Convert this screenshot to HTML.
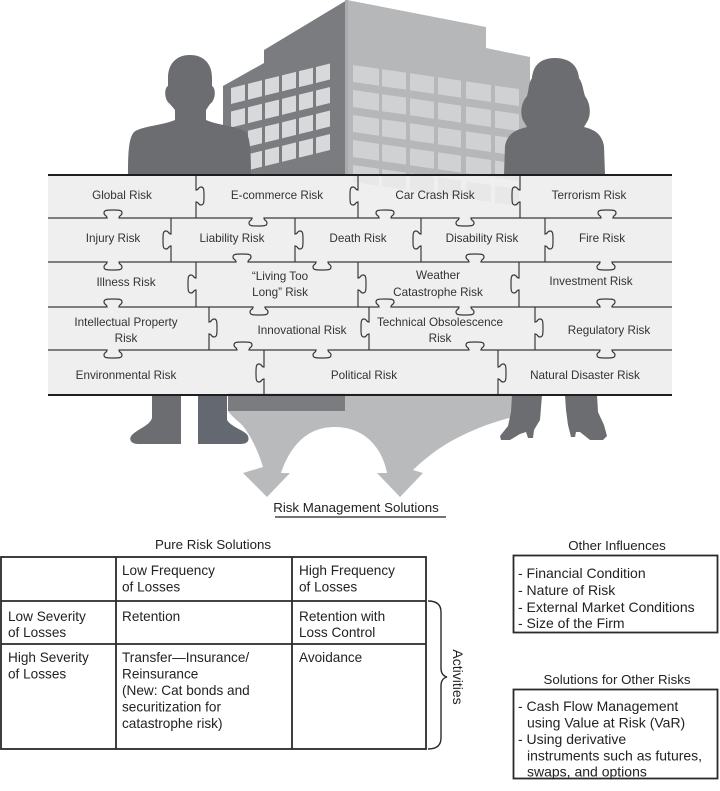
<!DOCTYPE html>
<html><head><meta charset="utf-8"><style>
html,body{margin:0;padding:0;background:#fff;}
svg{display:block;}
text{font-family:"Liberation Sans",Arial,sans-serif;}
</style></head><body>
<svg width="720" height="791" viewBox="0 0 720 791" xmlns="http://www.w3.org/2000/svg">
<rect width="720" height="791" fill="#ffffff"/>
<!-- building -->
<polygon points="347,0 486,27 486,48 530,57 530,175 347,175" fill="#b5b7b9"/>
<polygon points="347,0 264,50 264,63 223,86 223,175 347,175" fill="#7a7c7f"/>
<rect x="345" y="0" width="3" height="175" fill="#a9abad"/>
<g transform="matrix(1 -0.247 0 1 0 0)" fill="#d8d9db">
 <rect x="231" y="145" width="14" height="16"/><rect x="248" y="145" width="14" height="16"/><rect x="265" y="145" width="14" height="16"/><rect x="282" y="145" width="14" height="16"/><rect x="299" y="145" width="14" height="16"/><rect x="316" y="145" width="14" height="16"/>
 <rect x="231" y="168.5" width="14" height="16"/><rect x="248" y="168.5" width="14" height="16"/><rect x="265" y="168.5" width="14" height="16"/><rect x="282" y="168.5" width="14" height="16"/><rect x="299" y="168.5" width="14" height="16"/><rect x="316" y="168.5" width="14" height="16"/>
 <rect x="231" y="192" width="14" height="16"/><rect x="248" y="192" width="14" height="16"/><rect x="265" y="192" width="14" height="16"/><rect x="282" y="192" width="14" height="16"/><rect x="299" y="192" width="14" height="16"/><rect x="316" y="192" width="14" height="16"/>
 <rect x="231" y="215.5" width="14" height="16"/><rect x="248" y="215.5" width="14" height="16"/><rect x="265" y="215.5" width="14" height="16"/><rect x="282" y="215.5" width="14" height="16"/><rect x="299" y="215.5" width="14" height="16"/><rect x="316" y="215.5" width="14" height="16"/>
</g>
<g transform="matrix(1 0.145 0 1 0 0)" fill="#d0d1d3">
 <rect x="353" y="13.8" width="26" height="17"/><rect x="382" y="13.8" width="24" height="17"/><rect x="410" y="13.8" width="24" height="17"/><rect x="438" y="13.8" width="23" height="17"/><rect x="466" y="13.8" width="25" height="17"/><rect x="495" y="13.8" width="24" height="17"/>
 <rect x="353" y="38.8" width="26" height="17"/><rect x="382" y="38.8" width="24" height="17"/><rect x="410" y="38.8" width="24" height="17"/><rect x="438" y="38.8" width="23" height="17"/><rect x="466" y="38.8" width="25" height="17"/><rect x="495" y="38.8" width="24" height="17"/>
 <rect x="353" y="63.8" width="26" height="17"/><rect x="382" y="63.8" width="24" height="17"/><rect x="410" y="63.8" width="24" height="17"/><rect x="438" y="63.8" width="23" height="17"/><rect x="466" y="63.8" width="25" height="17"/><rect x="495" y="63.8" width="24" height="17"/>
 <rect x="353" y="88.8" width="26" height="17"/><rect x="382" y="88.8" width="24" height="17"/><rect x="410" y="88.8" width="24" height="17"/><rect x="438" y="88.8" width="23" height="17"/><rect x="466" y="88.8" width="25" height="17"/><rect x="495" y="88.8" width="24" height="17"/>
 <rect x="353" y="113.8" width="26" height="17"/><rect x="382" y="113.8" width="24" height="17"/><rect x="410" y="113.8" width="24" height="17"/><rect x="438" y="113.8" width="23" height="17"/><rect x="466" y="113.8" width="25" height="17"/><rect x="495" y="113.8" width="24" height="17"/>
</g>
<!-- man -->
<path d="M190 55 C176 55 168 64 168 78 L168 86 C164 88 164 100 170 104 L175 110 L175 120 C160 126 142 126 134 132 C129 138 128 150 128 175 L251 175 C251 150 250 138 246 132 C238 126 220 126 206 120 L206 110 L210 104 C216 100 216 88 212 86 L212 78 C212 64 204 55 190 55 Z" fill="#6b6d70"/>
<!-- woman -->
<path d="M555 58 C540 58 533 66 532 78 C528 84 529 90 527 96 C520 104 520 116 524 122 L527 127 C514 130 507 135 505 146 L504 175 L605 175 L604 146 C602 135 596 130 584 127 L587 122 C591 116 591 104 585 96 C583 90 583 84 579 78 C578 66 570 58 555 58 Z" fill="#6b6d70"/>
<!-- under grid: building piece + arrows -->
<rect x="228" y="393" width="117" height="18" fill="#7a7c7f"/>
<path d="M345 393 L513 393 L513 417 C480 425 450 440 433 453 C425 459 418 465 413 470 L423 473 L400 497 L377 473 L387 473 C382 447 364 427 335 427 C306 427 290 447 281 473 L290 473 L267 497 L243 473 L263 467 C258 450 248 430 240 423 C234 418 230 414 228 411 L345 411 Z" fill="#b8babc"/>
<!-- legs -->
<path d="M152 395 L181 395 L181 444 L138 444 C130 444 128 438 133 434 C140 428 150 425 152 418 Z" fill="#6b6d70"/>
<path d="M198 395 L227 395 L227 420 C232 428 245 430 248 436 C250 442 246 444 240 444 L198 444 Z" fill="#646870"/>
<path d="M512 395 L542 395 L540 420 L534 430 L533 438 L528 438 L526 432 L520 434 L510 440 L501 440 L500 436 L508 426 L511 412 Z" fill="#6b6d70"/>
<path d="M565 395 L597 395 L598 412 L604 425 L607 436 L603 440 L590 440 L580 432 L576 432 L575 437 L571 437 L568 425 L566 410 Z" fill="#6b6d70"/>
<!-- puzzle -->
<rect x="48" y="175" width="624" height="220" fill="#ececec" fill-opacity="0.84"/>
<g fill="none" stroke="#3a3a3a" stroke-width="1.2">
<path d="M48 218 L107 218 C107 215 104 216 104 213 C104 210 107 210 113 210 C119 210 122 210 122 213 C122 216 119 215 119 218 L252 218 C252 221 249 220 249 223 C249 226 252 226 258 226 C264 226 267 226 267 223 C267 220 264 221 264 218 L379 218 C379 215 376 216 376 213 C376 210 379 210 385 210 C391 210 394 210 394 213 C394 216 391 215 391 218 L459 218 C459 221 456 220 456 223 C456 226 459 226 465 226 C471 226 474 226 474 223 C474 220 471 221 471 218 L601 218 C601 215 598 216 598 213 C598 210 601 210 607 210 C613 210 616 210 616 213 C616 216 613 215 613 218 L672 218"/>
<path d="M48 262 L107 262 C107 265 104 264 104 267 C104 270 107 270 113 270 C119 270 122 270 122 267 C122 264 119 265 119 262 L236 262 C236 259 233 260 233 257 C233 254 236 254 242 254 C248 254 251 254 251 257 C251 260 248 259 248 262 L316 262 C316 265 313 264 313 267 C313 270 316 270 322 270 C328 270 331 270 331 267 C331 264 328 265 328 262 L469 262 C469 259 466 260 466 257 C466 254 469 254 475 254 C481 254 484 254 484 257 C484 260 481 259 481 262 L600 262 C600 265 597 264 597 267 C597 270 600 270 606 270 C612 270 615 270 615 267 C615 264 612 265 612 262 L672 262"/>
<path d="M48 307 L107 307 C107 304 104 305 104 302 C104 299 107 299 113 299 C119 299 122 299 122 302 C122 305 119 304 119 307 L253 307 C253 310 250 309 250 312 C250 315 253 315 259 315 C265 315 268 315 268 312 C268 309 265 310 265 307 L379 307 C379 304 376 305 376 302 C376 299 379 299 385 299 C391 299 394 299 394 302 C394 305 391 304 391 307 L459 307 C459 310 456 309 456 312 C456 315 459 315 465 315 C471 315 474 315 474 312 C474 309 471 310 471 307 L600 307 C600 304 597 305 597 302 C597 299 600 299 606 299 C612 299 615 299 615 302 C615 305 612 304 612 307 L672 307"/>
<path d="M48 350 L107 350 C107 353 104 352 104 355 C104 358 107 358 113 358 C119 358 122 358 122 355 C122 352 119 353 119 350 L237 350 C237 347 234 348 234 345 C234 342 237 342 243 342 C249 342 252 342 252 345 C252 348 249 347 249 350 L316 350 C316 353 313 352 313 355 C313 358 316 358 322 358 C328 358 331 358 331 355 C331 352 328 353 328 350 L469 350 C469 347 466 348 466 345 C466 342 469 342 475 342 C481 342 484 342 484 345 C484 348 481 347 481 350 L600 350 C600 353 597 352 597 355 C597 358 600 358 606 358 C612 358 615 358 615 355 C615 352 612 353 612 350 L672 350"/>
<path d="M196 175 L196 190 C199 190 198 187 201 187 C204 187 204 190 204 196 C204 202 204 205 201 205 C198 205 199 202 196 202 L196 218"/>
<path d="M358 175 L358 190 C355 190 356 187 353 187 C350 187 350 190 350 196 C350 202 350 205 353 205 C356 205 355 202 358 202 L358 218"/>
<path d="M520 175 L520 190 C517 190 518 187 515 187 C512 187 512 190 512 196 C512 202 512 205 515 205 C518 205 517 202 520 202 L520 218"/>
<path d="M171 218 L171 234 C168 234 169 231 166 231 C163 231 163 234 163 240 C163 246 163 249 166 249 C169 249 168 246 171 246 L171 262"/>
<path d="M295 218 L295 234 C298 234 297 231 300 231 C303 231 303 234 303 240 C303 246 303 249 300 249 C297 249 298 246 295 246 L295 262"/>
<path d="M421 218 L421 234 C418 234 419 231 416 231 C413 231 413 234 413 240 C413 246 413 249 416 249 C419 249 418 246 421 246 L421 262"/>
<path d="M545 218 L545 234 C548 234 547 231 550 231 C553 231 553 234 553 240 C553 246 553 249 550 249 C547 249 548 246 545 246 L545 262"/>
<path d="M196 262 L196 278 C193 278 194 275 191 275 C188 275 188 278 188 284 C188 290 188 293 191 293 C194 293 193 290 196 290 L196 307"/>
<path d="M358 262 L358 278 C361 278 360 275 363 275 C366 275 366 278 366 284 C366 290 366 293 363 293 C360 293 361 290 358 290 L358 307"/>
<path d="M519 262 L519 278 C516 278 517 275 514 275 C511 275 511 278 511 284 C511 290 511 293 514 293 C517 293 516 290 519 290 L519 307"/>
<path d="M209 307 L209 322 C212 322 211 319 214 319 C217 319 217 322 217 328 C217 334 217 337 214 337 C211 337 212 334 209 334 L209 350"/>
<path d="M369 307 L369 322 C366 322 367 319 364 319 C361 319 361 322 361 328 C361 334 361 337 364 337 C367 337 366 334 369 334 L369 350"/>
<path d="M535 307 L535 322 C538 322 537 319 540 319 C543 319 543 322 543 328 C543 334 543 337 540 337 C537 337 538 334 535 334 L535 350"/>
<path d="M264 350 L264 367 C261 367 262 364 259 364 C256 364 256 367 256 373 C256 379 256 382 259 382 C262 382 261 379 264 379 L264 395"/>
<path d="M498 350 L498 367 C501 367 500 364 503 364 C506 364 506 367 506 373 C506 379 506 382 503 382 C500 382 501 379 498 379 L498 395"/>
</g>
<line x1="48" y1="175" x2="672" y2="175" stroke="#1e1e1e" stroke-width="2"/>
<line x1="48" y1="395" x2="672" y2="395" stroke="#1e1e1e" stroke-width="2"/>
<g font-size="11.7" fill="#333" text-anchor="middle">
<text x="122" y="199">Global Risk</text>
<text x="277" y="199">E-commerce Risk</text>
<text x="435" y="199">Car Crash Risk</text>
<text x="589" y="199">Terrorism Risk</text>
<text x="113" y="242">Injury Risk</text>
<text x="232" y="242">Liability Risk</text>
<text x="358" y="242">Death Risk</text>
<text x="482" y="242">Disability Risk</text>
<text x="602" y="242">Fire Risk</text>
<text x="126" y="286">Illness Risk</text>
<text x="280" y="280">“Living Too</text>
<text x="280" y="296">Long” Risk</text>
<text x="438" y="279">Weather</text>
<text x="438" y="296">Catastrophe Risk</text>
<text x="591" y="285">Investment Risk</text>
<text x="126" y="326">Intellectual Property</text>
<text x="126" y="342">Risk</text>
<text x="302" y="334">Innovational Risk</text>
<text x="440" y="326">Technical Obsolescence</text>
<text x="440" y="342">Risk</text>
<text x="609" y="334">Regulatory Risk</text>
<text x="126" y="379">Environmental Risk</text>
<text x="364" y="379">Political Risk</text>
<text x="585" y="379">Natural Disaster Risk</text>
</g>
<!-- Risk management solutions -->
<text x="356" y="512" font-size="13.3" fill="#222" text-anchor="middle">Risk Management Solutions</text>
<line x1="275" y1="517" x2="446" y2="517" stroke="#222" stroke-width="1.2"/>
<!-- table -->
<text x="213" y="549" font-size="13.3" fill="#222" text-anchor="middle">Pure Risk Solutions</text>
<g fill="none" stroke="#2a2a2a" stroke-width="1.8">
<rect x="1" y="557" width="425" height="192"/>
<line x1="116" y1="557" x2="116" y2="749"/>
<line x1="292" y1="557" x2="292" y2="749"/>
<line x1="1" y1="601" x2="426" y2="601"/>
<line x1="1" y1="644" x2="426" y2="644"/>
</g>
<path d="M428 601 C436 601 441 604 441 612 L441 668 C441 673 443 676 447 677 C443 678 441 681 441 686 L441 738 C441 746 436 749 428 749" fill="none" stroke="#2a2a2a" stroke-width="1.4"/>
<text transform="translate(453 677) rotate(90)" font-size="14" fill="#222" text-anchor="middle">Activities</text>
<g font-size="13.6" fill="#222">
<text x="122" y="575">Low Frequency</text>
<text x="122" y="591.5">of Losses</text>
<text x="299" y="575">High Frequency</text>
<text x="299" y="591.5">of Losses</text>
<text x="8" y="621">Low Severity</text>
<text x="8" y="637">of Losses</text>
<text x="122" y="621">Retention</text>
<text x="299" y="621">Retention with</text>
<text x="299" y="637">Loss Control</text>
<text x="8" y="662">High Severity</text>
<text x="8" y="678.5">of Losses</text>
<text x="122" y="662">Transfer—Insurance/</text>
<text x="122" y="678.5">Reinsurance</text>
<text x="122" y="695">(New: Cat bonds and</text>
<text x="122" y="711.5">securitization for</text>
<text x="122" y="728">catastrophe risk)</text>
<text x="299" y="662">Avoidance</text>
</g>
<!-- right boxes -->
<text x="617" y="550" font-size="13.3" fill="#222" text-anchor="middle">Other Influences</text>
<rect x="513.5" y="555.5" width="204" height="77" fill="none" stroke="#2a2a2a" stroke-width="1.8"/>
<g font-size="14" fill="#222">
<text x="518" y="578">- Financial Condition</text>
<text x="518" y="595">- Nature of Risk</text>
<text x="518" y="612">- External Market Conditions</text>
<text x="518" y="628">- Size of the Firm</text>
</g>
<text x="617" y="684" font-size="13.3" fill="#222" text-anchor="middle">Solutions for Other Risks</text>
<rect x="513.5" y="689.5" width="204" height="89" fill="none" stroke="#2a2a2a" stroke-width="1.8"/>
<g font-size="14" fill="#222">
<text x="518" y="711">- Cash Flow Management</text>
<text x="527" y="727.5">using Value at Risk (VaR)</text>
<text x="518" y="744">- Using derivative</text>
<text x="527" y="760.5">instruments such as futures,</text>
<text x="527" y="776.5">swaps, and options</text>
</g>
</svg>
</body></html>
